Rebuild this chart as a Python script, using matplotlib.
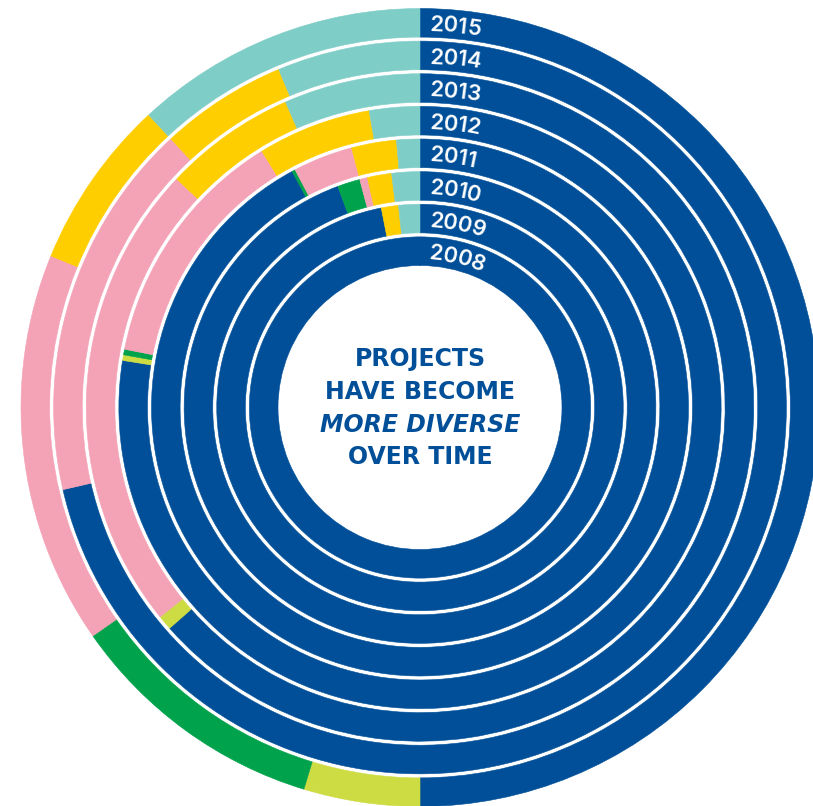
import numpy as np
import matplotlib
matplotlib.use("Agg")
import matplotlib.pyplot as plt
from matplotlib.font_manager import FontProperties
from matplotlib.textpath import TextToPath

# Share of projects by type, per year (percent), innermost ring = 2008
years = ["2008", "2009", "2010", "2011", "2012", "2013", "2014", "2015"]
navy = [100.0, 96.95, 94.3, 92.1, 77.5, 63.5, 71.4, 50.0]
lime = [0.0, 0.0, 0.0, 0.0, 0.3, 0.7, 0.0, 4.7]
green = [0.0, 0.0, 1.55, 0.2, 0.3, 0.0, 0.0, 10.6]
pink = [0.0, 0.0, 0.53, 3.6, 13.1, 22.8, 16.7, 15.9]
yellow = [0.0, 1.36, 1.66, 2.7, 6.1, 6.4, 5.6, 6.9]
teal = [0.0, 1.69, 1.92, 1.4, 2.7, 6.6, 6.3, 11.9]

series = [navy, lime, green, pink, yellow, teal]
colors = ["#004F98", "#CEDC44", "#00A24B", "#F4A2B6", "#FFCE00", "#7ECDC7"]
NAVY = colors[0]

W, H, DPI = 813, 806, 100
fig = plt.figure(figsize=(W / DPI, H / DPI), dpi=DPI)
fig.patch.set_facecolor("white")

# polar axes measured in pixels: centre and outer radius of the drawing area
cx, cy, R = 420.0, 407.5, 400.0
ax = fig.add_axes([(cx - R) / W, (H - cy - R) / H, 2 * R / W, 2 * R / H],
                  projection="polar")
ax.set_theta_zero_location("N")
ax.set_theta_direction(-1)
ax.set_rlim(0, R)
ax.set_axis_off()

r_hole, gap = 142.0, 4.0
pitch = (399.0 - r_hole + gap) / len(years)
ring_w = pitch - gap

for i, yr in enumerate(years):
    vals = np.array([s[i] for s in series], dtype=float)
    frac = vals / vals.sum()
    r_in = r_hole + i * pitch
    start = 0.0
    for f, c in zip(frac, colors):
        if f <= 0:
            continue
        ax.bar(start, ring_w, width=f * 2 * np.pi, bottom=r_in, align="edge",
               color=c, edgecolor=c, linewidth=0.4)
        start += f * 2 * np.pi

# year labels set along each ring, just clockwise of twelve o'clock
fp = FontProperties(family=["Inter", "DejaVu Sans"], weight="semibold", size=15.8)
t2p = TextToPath()
px = DPI / 72.0
for i, yr in enumerate(years):
    r_mid = r_hole + i * pitch + ring_w / 2
    s0 = 10.0
    for k, ch in enumerate(yr):
        a = t2p.get_text_width_height_descent(yr[:k], fp, ismath=False)[0] * px if k else 0.0
        b = t2p.get_text_width_height_descent(yr[:k + 1], fp, ismath=False)[0] * px
        s = s0 + (a + b) / 2
        th = s / r_mid
        ax.text(th, r_mid, ch, fontproperties=fp, color="white",
                rotation=-np.degrees(th), rotation_mode="anchor",
                ha="center", va="center_baseline")

# centre caption
cfont = ["DejaVu Sans"]
lines = [("PROJECTS", "normal", 359), ("HAVE BECOME", "normal", 392),
         ("MORE DIVERSE", "italic", 425), ("OVER TIME", "normal", 457)]
for txt, style, ypx in lines:
    fig.text(cx / W, 1 - ypx / H, txt, family=cfont, fontsize=17.0,
             weight="bold", style=style,
             color=NAVY, ha="center", va="center")

fig.savefig("out.png", dpi=DPI, facecolor="white")
